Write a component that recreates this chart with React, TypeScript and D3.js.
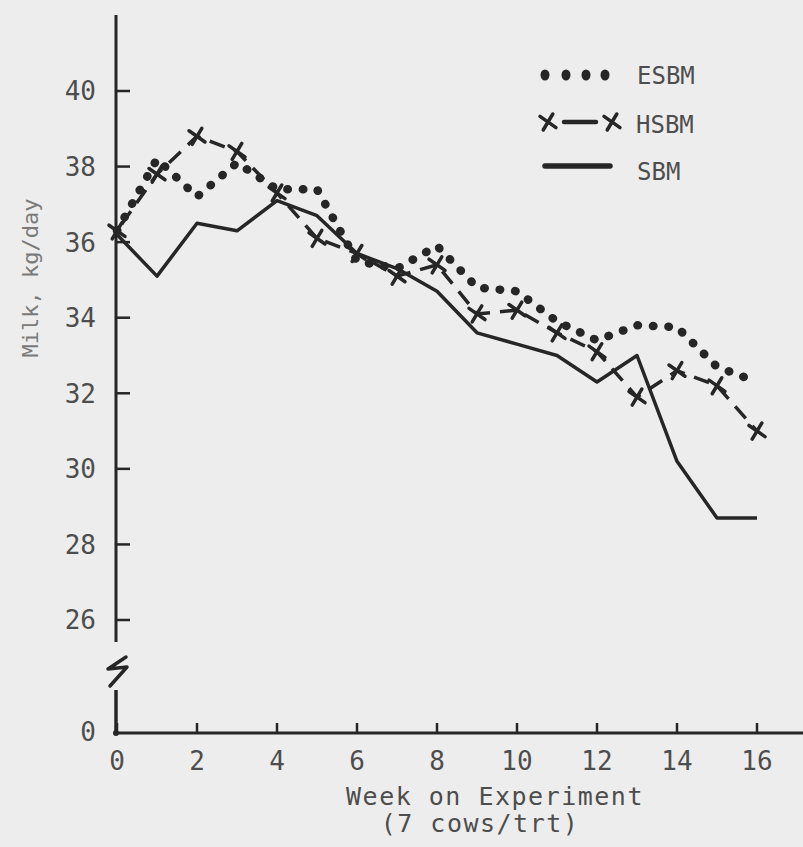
import React from 'react';
import * as d3 from 'd3';

const weeks = [0, 1, 2, 3, 4, 5, 6, 7, 8, 9, 10, 11, 12, 13, 14, 15, 16];
const esbm = [36.3, 38.2, 37.2, 38.1, 37.4, 37.4, 35.5, 35.3, 35.9, 34.8, 34.7, 33.9, 33.4, 33.8, 33.75, 32.7, 32.3];
const hsbm = [36.3, 37.8, 38.8, 38.4, 37.3, 36.1, 35.7, 35.1, 35.4, 34.1, 34.2, 33.6, 33.1, 31.9, 32.6, 32.2, 31.0];
const sbm = [36.2, 35.1, 36.5, 36.3, 37.1, 36.7, 35.7, 35.3, 34.7, 33.6, 33.3, 33.0, 32.3, 33.0, 30.2, 28.7, 28.7];

const xTicks = [0, 2, 4, 6, 8, 10, 12, 14, 16];
const yTicks = [26, 28, 30, 32, 34, 36, 38, 40];

const width = 803, height = 847;
const ink = '#262626';
const txt = '#4d4d4d';
const font = '"DejaVu Sans Mono", "Liberation Mono", monospace';

const xScale = d3.scaleLinear().domain([0, 16]).range([117, 757]);
const yScale = d3.scaleLinear().domain([26, 40]).range([620, 91]);
const axisY = 733; // y-value 0 after the break
const axisX = 116;

const line = d3.line<[number, number]>()
  .x(d => xScale(d[0]))
  .y(d => yScale(d[1]));

const pts = (vals: number[]) => weeks.map((w, i) => [w, vals[i]] as [number, number]);

const XMark = ({ x, y, s = 8 }: { x: number; y: number; s?: number }) => (
  <g stroke={ink} strokeWidth={3.5} strokeLinecap='round'>
    <line x1={x - s} y1={y - s * 0.7} x2={x + s} y2={y + s * 0.7} />
    <line x1={x - s * 0.6} y1={y + s} x2={x + s * 0.6} y2={y - s} />
  </g>
);

export default function App() {
  return (
    <svg width={width} height={height} style={{ position: 'absolute', left: 0, top: 0, background: '#ededed' }}>
      <rect x={0} y={0} width={width} height={height} fill='#ededed' />

      {/* y axis with break */}
      <line x1={axisX} x2={axisX} y1={15} y2={642} stroke={ink} strokeWidth={3} />
      <path d='M126,657 L108,669 L127,667 L110,686' fill='none' stroke={ink} strokeWidth={3.5} strokeLinejoin='round' strokeLinecap='round' />
      <line x1={axisX} x2={axisX} y1={690} y2={axisY} stroke={ink} strokeWidth={3.5} />
      <circle cx={axisX} cy={axisY} r={3} fill={ink} />
      {yTicks.map(t => (
        <g key={t}>
          <line x1={axisX} x2={axisX + 14} y1={yScale(t)} y2={yScale(t)} stroke={ink} strokeWidth={2.5} />
          <text x={96} y={yScale(t)} dy='0.36em' textAnchor='end' fontFamily={font} fontSize={26} fill={txt}>{t}</text>
        </g>
      ))}
      <text x={96} y={axisY} dy='0.0em' textAnchor='end' fontFamily={font} fontSize={26} fill={txt} dominantBaseline='middle'>0</text>

      {/* x axis */}
      <line x1={axisX} x2={width} y1={axisY} y2={axisY} stroke={ink} strokeWidth={3} />
      {xTicks.map(t => (
        <g key={t}>
          <line x1={xScale(t)} x2={xScale(t)} y1={axisY} y2={axisY - 10} stroke={ink} strokeWidth={2.5} />
          <text x={xScale(t)} y={770} textAnchor='middle' fontFamily={font} fontSize={26} fill={txt}>{t}</text>
        </g>
      ))}
      <text x={495} y={805} textAnchor='middle' fontFamily={font} fontSize={25} letterSpacing={1.5} fill={txt}>Week on Experiment</text>
      <text x={480} y={832} textAnchor='middle' fontFamily={font} fontSize={25} letterSpacing={1.5} fill={txt}>(7 cows/trt)</text>
      <text transform='translate(38,278) rotate(-90)' textAnchor='middle' fontFamily={font} fontSize={22} fill='#7a7a7a'>Milk, kg/day</text>

      {/* SBM solid */}
      <path d={line(pts(sbm)) || ''} fill='none' stroke={ink} strokeWidth={3.5} strokeLinejoin='round' />

      {/* HSBM dash with x markers */}
      <path d={line(pts(hsbm)) || ''} fill='none' stroke={ink} strokeWidth={3.5} strokeDasharray='16 10' strokeDashoffset={-8} />
      {pts(hsbm).map(([w, v]) => <XMark key={w} x={xScale(w)} y={yScale(v)} />)}

      {/* ESBM dotted */}
      <path d={line(pts(esbm)) || ''} fill='none' stroke={ink} strokeWidth={8.5} strokeLinecap='round' strokeDasharray='0.5 15' />

      {/* legend */}
      {[545, 566, 586, 605].map(x => (
        <ellipse key={x} cx={x} cy={75} rx={4.5} ry={5.5} fill={ink} />
      ))}
      <text x={637} y={84} fontFamily={font} fontSize={24} fill={txt}>ESBM</text>
      <XMark x={548} y={122} />
      <line x1={564} x2={596} y1={122} y2={122} stroke={ink} strokeWidth={4.5} strokeLinecap='round' />
      <XMark x={612} y={122} />
      <text x={636} y={133} fontFamily={font} fontSize={24} fill={txt}>HSBM</text>
      <line x1={545} x2={610} y1={166} y2={166} stroke={ink} strokeWidth={5.5} strokeLinecap='round' />
      <text x={637} y={180} fontFamily={font} fontSize={24} fill={txt}>SBM</text>
    </svg>
  );
}
